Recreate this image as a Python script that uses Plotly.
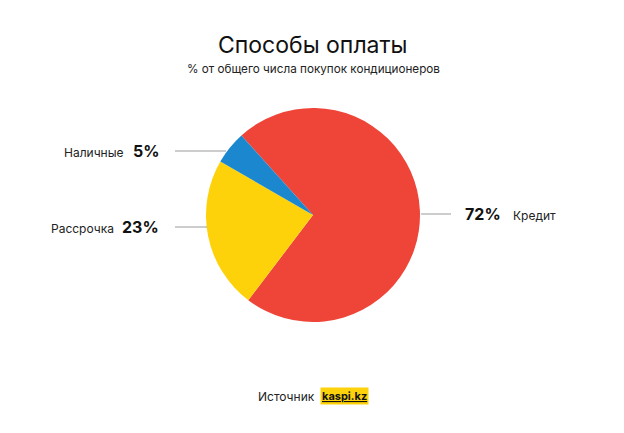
import plotly.graph_objects as go

# ---------- data ----------
methods = ["Кредит", "Рассрочка", "Наличные"]
shares = [72, 23, 5]
colors = ["#EF4538", "#FDD20A", "#1B87CF"]

W, H = 624, 433
OFF = 8  # page body margin


def px(x):
    return (x - OFF) / W


def py(y):
    return 1 - (y - OFF) / H


# pie geometry (pixels in the screenshot)
cx, cy, r = 313, 215, 107

fig = go.Figure(
    go.Pie(
        labels=methods,
        values=shares,
        sort=False,
        direction="clockwise",
        rotation=318,
        marker=dict(colors=colors, line=dict(width=0)),
        textinfo="none",
        hoverinfo="label+percent",
        domain=dict(x=[px(cx - r), px(cx + r)], y=[py(cy + r), py(cy - r)]),
        showlegend=False,
    )
)

FONT = "Inter, Roboto, sans-serif"
ann = []
shapes = []

# label placement: (y, side, line x0, line x1, pct x, name x)
label_pos = {
    "Наличные": (151, "left", 175, 226, 161, 126),
    "Рассрочка": (227, "left", 175, 207, 161, 116),
    "Кредит": (214, "right", 421, 451, 463, 511),
}

for name, val in zip(methods, shares):
    y, side, x0, x1, xp, xn = label_pos[name]
    shapes.append(dict(type="line", xref="paper", yref="paper",
                       x0=px(x0), x1=px(x1), y0=py(y), y1=py(y),
                       line=dict(color="#9a9a9a", width=1)))
    anchor = "right" if side == "left" else "left"
    ann.append(dict(x=px(xp), y=py(y), text=f"<b>{val}%</b>", xanchor=anchor,
                    font=dict(size=16, color="#111", family=FONT)))
    ann.append(dict(x=px(xn), y=py(y + 1), text=name, xanchor=anchor,
                    font=dict(size=12, color="#222", family=FONT)))

# titles and source
ann.append(dict(x=px(313), y=py(45), text="Способы оплаты", xanchor="center",
                font=dict(size=23, color="#111", family=FONT)))
ann.append(dict(x=px(313), y=py(69), text="% от общего числа покупок кондиционеров",
                xanchor="center", font=dict(size=11.7, color="#222", family=FONT)))
ann.append(dict(x=px(317), y=py(396), text="Источник", xanchor="right",
                font=dict(size=12, color="#222", family=FONT)))
ann.append(dict(x=px(320), y=py(396), text="<b><u>kaspi.kz</u></b>", xanchor="left",
                bgcolor="#FDD20A", borderpad=1,
                font=dict(size=11, color="#111", family=FONT)))

for a in ann:
    a.update(xref="paper", yref="paper", yanchor="middle", showarrow=False)

fig.update_layout(
    width=W, height=H,
    margin=dict(l=0, r=0, t=0, b=0),
    paper_bgcolor="white",
    plot_bgcolor="white",
    annotations=ann,
    shapes=shapes,
)

fig.write_html("out.html")
